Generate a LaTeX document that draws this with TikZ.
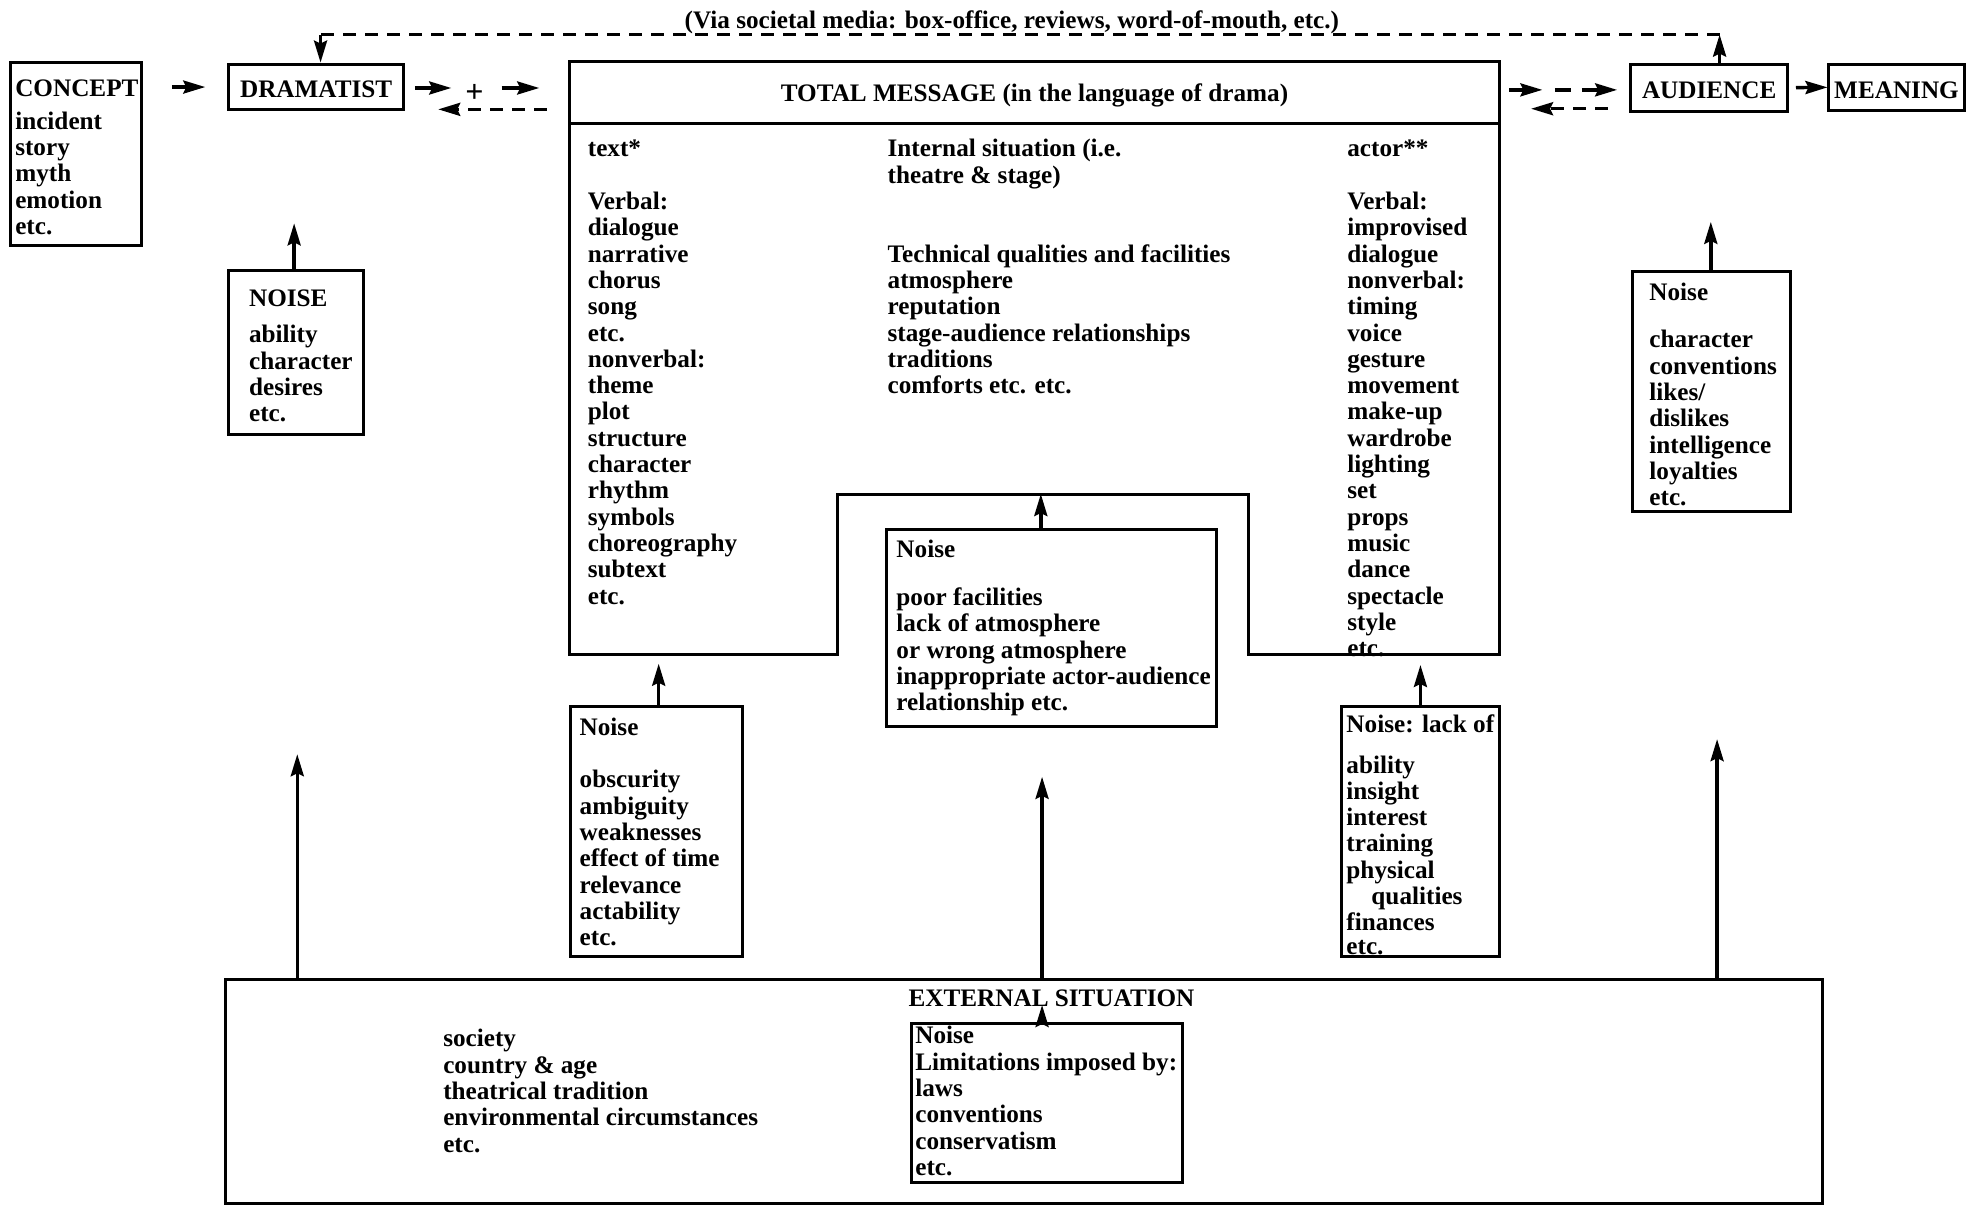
\documentclass[tikz,border=0pt]{standalone}
\usepackage{fontspec}
\setmainfont{Liberation Serif}
\usetikzlibrary{arrows.meta,fit}
\begin{document}
\begin{tikzpicture}[x=1.257pt,y=-1.257pt,
  box/.style={draw, line width=3pt, inner sep=0pt},
  txt/.style={font=\bfseries\fontsize{25.2}{26.3}\selectfont, align=left, anchor=north west, inner sep=0pt, yshift=-2.5pt},
  lbl/.style={font=\bfseries\fontsize{25.2}{26.3}\selectfont, inner sep=0pt},
  arr/.style={line width=3.4pt, -{Stealth[length=22pt,width=13pt,inset=3pt]}},
  dsh/.style={line width=3.4pt, dash pattern=on 13pt off 9pt},
]
\useasboundingbox (0,0) rectangle (1568,959.4);
\fill[white] (0,0) rectangle (1568,959.4);

% ---------- top row boxes
\node[box, fit={(8,50) (112.6,195.5)}] (concept) {};
\node[txt] (concepttxt) at (12,60.1) {\strut CONCEPT\\[6.4pt] incident\\ story\\ myth\\ emotion\\ etc.};
\node[box, fit={(182,51) (321,87.5)}] (dram) {};
\node[lbl, yshift=-2.5pt] at (dram.center) {DRAMATIST};
\node[box, fit={(1297.5,51) (1422,88.5)}] (aud) {};
\node[lbl, yshift=-2.5pt] at (aud.center) {AUDIENCE};
\node[box, fit={(1455,51) (1562.5,88)}] (mean) {};
\node[lbl, yshift=-2.5pt] at (mean.center) {MEANING};

% ---------- total message
\draw[line width=3pt, line join=miter] (453,49) -- (1193,49) -- (1193,521) -- (993,521) -- (993,393) -- (666,393) -- (666,521) -- (453,521) -- cycle;
\draw[line width=3pt] (453,98) -- (1193,98);
\node[inner sep=0pt, fit={(453,49) (1193,98)}] (tmhead) {};
\node[lbl, yshift=-3pt] at (tmhead.center) {TOTAL MESSAGE (in the language of drama)};
\node[txt] (tmleft) at (467.5,108.1) {\strut text*\\[26.3pt] Verbal:\\ dialogue\\ narrative\\ chorus\\ song\\ etc.\\ nonverbal:\\ theme\\ plot\\ structure\\ character\\ rhythm\\ symbols\\ choreography\\ subtext\\ etc.};
\node[txt] (tmmid) at (706,108.1) {\strut Internal situation (i.e.\\ theatre \& stage)\\[52.6pt] Technical qualities and facilities\\ atmosphere\\ reputation\\ stage-audience relationships\\ traditions\\ comforts etc. etc.};
\node[txt] (tmright) at (1071.7,108.1) {\strut actor**\\[26.3pt] Verbal:\\ improvised\\ dialogue\\ nonverbal:\\ timing\\ voice\\ gesture\\ movement\\ make-up\\ wardrobe\\ lighting\\ set\\ props\\ music\\ dance\\ spectacle\\ style\\ etc.};
\coordinate (notch) at (828,393);

% ---------- noise boxes
\node[box, fit={(182,215) (289,346)}] (dnoise) {};
\node[txt] at (198,227.1) {\strut NOISE\\[10pt] ability\\ character\\ desires\\ etc.};
\node[box, fit={(1299,216) (1424,407)}] (anoise) {};
\node[txt] at (1312,222.1) {\strut Noise\\[21.4pt] character\\ conventions\\ likes/\\ dislikes\\ intelligence\\ loyalties\\ etc.};
\node[box, fit={(705,421) (968,577.6)}] (mnoise) {};
\node[txt] at (713,427.1) {\strut Noise\\[21.4pt] poor facilities\\ lack of atmosphere\\ or wrong atmosphere\\ inappropriate actor-audience\\ relationship etc.};
\node[box, fit={(453.5,562) (591,761)}] (lnoise) {};
\node[txt] at (461,568.1) {\strut Noise\\[26.3pt] obscurity\\ ambiguity\\ weaknesses\\ effect of time\\ relevance\\ actability\\ etc.};
\node[box, fit={(1067,562) (1193,761)}] (rnoise) {};
\node[txt] at (1071,566.1) {\strut Noise: lack of\\[14pt] ability\\ insight\\ interest\\ training\\ physical\\ \hspace*{25pt}qualities\\ finances\\[-3pt] etc.};

% ---------- external situation
\node[box, fit={(179,779.6) (1450,957.5)}] (ext) {};
\node[lbl, anchor=base] (exttitle) at (836.5,801) {EXTERNAL SITUATION};
\node[txt] at (352.5,816.1) {\strut society\\ country \& age\\ theatrical tradition\\ environmental circumstances\\ etc.};
\node[box, fit={(725,814) (941,941)}] (enoise) {};
\node[txt] at (728,813.6) {\strut Noise\\ Limitations imposed by:\\ laws\\ conventions\\ conservatism\\ etc.};

% ---------- connectors: top row
\draw[arr, shorten <=28.8pt, shorten >=22pt] (concept.east |- dram.west) -- (dram.west);
\coordinate (d1) at (330,70); \coordinate (d2) at (359,70);
\node[font=\bfseries\fontsize{32}{32}\selectfont, inner sep=0pt] (plus) at (377.5,74) {+};
\coordinate (d3) at (399,70); \coordinate (d4) at (429,70);
\draw[arr] (d1) -- (d2);
\draw[arr] (d3) -- (d4);
\coordinate (d5) at (435,87); \coordinate (d6) at (348.6,87);
\draw[dsh, arr] (d5) -- (d6);

\coordinate (a1) at (1200.6,71.5); \coordinate (a2) at (1227,71.5);
\coordinate (a3) at (1237,71.5); \coordinate (a4) at (1250,71.5);
\coordinate (a5) at (1258.5,71.5); \coordinate (a6) at (1286.5,71.5);
\draw[arr] (a1) -- (a2);
\draw[line width=3.4pt] (a3) -- (a4);
\draw[arr] (a5) -- (a6);
\coordinate (a7) at (1279,86.5); \coordinate (a8) at (1218,86.5);
\draw[dsh, arr] (a7) -- (a8);
\draw[arr, shorten <=7pt] (aud.east) -- (mean.west);

% feedback loop
\coordinate (fbR) at (1368,27.5); \coordinate (fbL) at (255,27.5);
\node[lbl, anchor=base] (via) at (805,22.5) {(Via societal media: box-office, reviews, word-of-mouth, etc.)};
\draw[arr] (aud.north -| fbR) -- (fbR);
\draw[dsh] (fbR) -- (fbL);
\draw[arr] (fbL) -- (fbL |- dram.north);

% noise arrows
\coordinate (dtip) at (234,177.7);
\draw[arr] (dnoise.north -| dtip) -- (dtip);
\coordinate (atip) at (1361,176.5);
\draw[arr] (anoise.north -| atip) -- (atip);
\draw[arr] (mnoise.north -| notch) -- (notch);
\coordinate (ltip) at (524,528);
\draw[arr] (lnoise.north -| ltip) -- (ltip);
\coordinate (rtip) at (1130,529);
\draw[arr] (rnoise.north -| rtip) -- (rtip);

% external arrows
\coordinate (e1) at (236.5,600);
\coordinate (e2) at (829,618);
\coordinate (e3) at (1366,588);
\draw[arr] (ext.north -| e1) -- (e1);
\draw[arr] (ext.north -| e2) -- (e2);
\draw[arr] (ext.north -| e3) -- (e3);
\coordinate (e4) at (829,799.5);
\draw[arr] (enoise.north -| e4) -- (e4);
\end{tikzpicture}
\end{document}
